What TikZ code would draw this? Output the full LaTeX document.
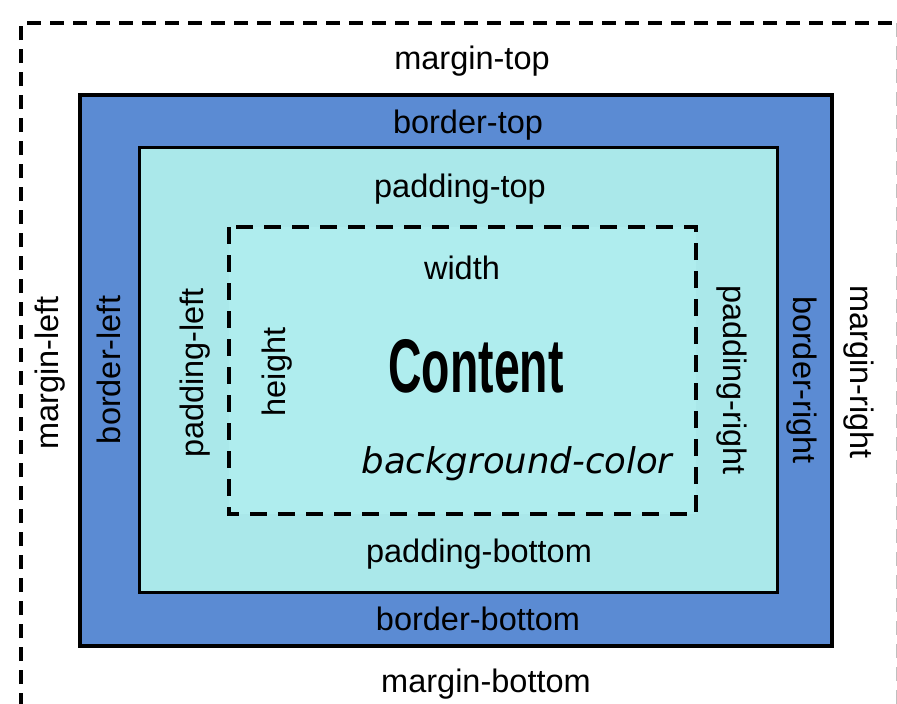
\documentclass[tikz,border=0pt]{standalone}
\usepackage{fontspec}
\setmainfont{Liberation Sans}
\newfontfamily\dejavu{DejaVu Sans}
\definecolor{borderblue}{RGB}{91,139,211}
\definecolor{padcyan}{RGB}{170,232,234}
\definecolor{contcyan}{RGB}{175,237,238}
\tikzset{
  lbl/.style={inner sep=0pt, anchor=base, font=\fontsize{32.5}{39}\selectfont},
  boxline/.style={draw=black, line width=3.5pt},
  marginline/.style={draw=black, line width=3.3pt, dash pattern=on 14pt off 9pt},
  contentline/.style={draw=black, line width=3.5pt, dash pattern=on 17pt off 11pt}
}
\begin{document}
\begin{tikzpicture}[x=1pt,y=-1pt]
\useasboundingbox (0,0) rectangle (897,704);
% margin outline
\draw[marginline] (21,730) -- (21,23) -- (897,23);
\draw[draw=black!25, line width=1.5pt, dash pattern=on 14pt off 9pt] (896.5,23) -- (896.5,730);
% border box
\draw[boxline, fill=borderblue] (80,95) rectangle (832,646);
% padding box
\draw[boxline, line width=3pt, fill=padcyan] (139,147) rectangle (777,592);
% content box
\draw[contentline, fill=contcyan] (229,227) rectangle (696,514);

% horizontal labels
\node[lbl] (mt) at (472,69) {margin-top};
\node[lbl] (bt) at (468,133) {border-top};
\node[lbl] (pt) at (460,197) {padding-top};
\node[lbl] (w) at (462,279) {width};
\node[lbl, font=\fontsize{76}{80}\selectfont\bfseries] (c) at (476,392) {\scalebox{0.61}[1]{Content}};
\node[lbl, font=\fontsize{35.5}{40}\dejavu\itshape] (bg) at (517,473) {background-color};
\node[lbl] (pb) at (479,562) {padding-bottom};
\node[lbl] (bb) at (478,630) {border-bottom};
\node[lbl] (mb) at (486,692) {margin-bottom};

% vertical labels (reading upwards)
\node[lbl, rotate=90] (ml) at (58,373) {margin-left};
\node[lbl, rotate=90] (bl) at (120,370) {border-left};
\node[lbl, rotate=90] (pl) at (203,373) {padding-left};
\node[lbl, rotate=90] (h) at (285,372) {height};
% vertical labels (reading downwards)
\node[lbl, rotate=-90] (pr) at (723,380) {padding-right};
\node[lbl, rotate=-90] (br) at (793,380) {border-right};
\node[lbl, rotate=-90] (mr) at (850,372) {margin-right};
\end{tikzpicture}
\end{document}
